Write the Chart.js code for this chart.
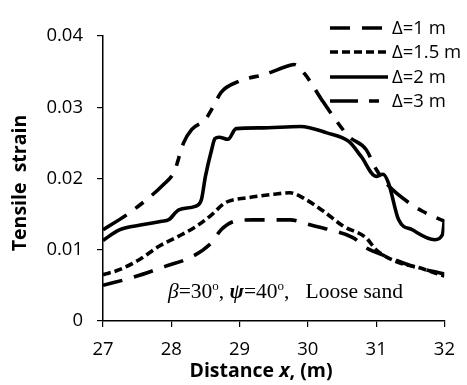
<!DOCTYPE html>
<html>
<head>
<meta charset="utf-8">
<script src="https://cdn.jsdelivr.net/npm/chart.js@4.4.0/dist/chart.umd.min.js"></script>
<style>
html,body{margin:0;padding:0;background:#fff;}
#wrap{width:467px;height:385px;position:relative;}
</style>
</head>
<body>
<div id="wrap"><canvas id="c" width="467" height="385"></canvas></div>
<script>
// ---- data ----
const xTicks = [27, 28, 29, 30, 31, 32];
const yTicks = [0, 0.01, 0.02, 0.03, 0.04];
const seriesNames = ['\u0394=1 m', '\u0394=1.5 m', '\u0394=2 m', '\u0394=3 m'];

const d1X = [27, 27.43, 27.92, 28.3, 28.59, 28.73, 28.93, 29.2, 29.55, 29.74, 30.03, 30.32, 30.66, 30.85, 31.14, 31.53, 32];
const d1Y = [0.0050, 0.0061, 0.0077, 0.0090, 0.0110, 0.0128, 0.0140, 0.0142, 0.0142, 0.0142, 0.0135, 0.0128, 0.0117, 0.0103, 0.0091, 0.0077, 0.0066];

const d15X = [27, 27.24, 27.53, 27.82, 28.11, 28.4, 28.59, 28.79, 29.12, 29.51, 29.74, 29.98, 30.23, 30.52, 30.85, 31.0, 31.33, 31.62, 32];
const d15Y = [0.0065, 0.0072, 0.0086, 0.0105, 0.0119, 0.0135, 0.0149, 0.0166, 0.0173, 0.0178, 0.0180, 0.0170, 0.0154, 0.0133, 0.0117, 0.0100, 0.0082, 0.0075, 0.0063];

const d2X = [27, 27.24, 27.57, 27.86, 27.96, 28.11, 28.35, 28.44, 28.5, 28.59, 28.64, 28.7, 28.83, 28.95, 29.3, 29.89, 30.28, 30.6, 30.78, 31.0, 31.1, 31.18, 31.33, 31.53, 31.86, 31.97, 32];
const d2Y = [0.0113, 0.0128, 0.0135, 0.0140, 0.0142, 0.0156, 0.0161, 0.0170, 0.0203, 0.0240, 0.0256, 0.0258, 0.0255, 0.0270, 0.0271, 0.0273, 0.0264, 0.0252, 0.0231, 0.0203, 0.0206, 0.0194, 0.0142, 0.0128, 0.0114, 0.0121, 0.0142];

const d3X = [27, 27.39, 27.89, 28.04, 28.18, 28.3, 28.5, 28.61, 28.73, 28.98, 29.4, 29.74, 29.8, 29.96, 30.2, 30.35, 30.6, 30.85, 31.0, 31.19, 31.48, 31.68, 32];
const d3Y = [0.0128, 0.0152, 0.0192, 0.0209, 0.0250, 0.0269, 0.0283, 0.0300, 0.0321, 0.0336, 0.0347, 0.0359, 0.0360, 0.0346, 0.0311, 0.0290, 0.0259, 0.0241, 0.0213, 0.0189, 0.0166, 0.0154, 0.0140];

const dashes = [[20, 12], [8, 4], [], [28, 11, 10, 11]];

function pts(xs, ys){ return xs.map((x,i)=>({x:x, y:ys[i]})); }
const allX = [d1X, d15X, d2X, d3X];
const allY = [d1Y, d15Y, d2Y, d3Y];

const LW = 3.6;
const datasets = seriesNames.map((n,i)=>({
  label: n,
  data: pts(allX[i], allY[i]),
  borderColor: '#000',
  borderWidth: LW,
  borderDash: dashes[i],
  pointRadius: 0,
  fill: false,
  cubicInterpolationMode: 'monotone',
  borderCapStyle: 'butt'
}));

const TICKFONT = {family: 'Open Sans', size: 18.5};

const overlay = {
  id: 'overlay',
  afterDraw(chart){
    const ctx = chart.ctx;
    ctx.save();
    // legend
    const rows = [28, 52, 77, 101];
    ctx.fillStyle = '#000';
    ctx.textBaseline = 'middle';
    ctx.font = '18.5px "Open Sans"';
    seriesNames.forEach((n,i)=>{
      ctx.beginPath();
      ctx.setLineDash(dashes[i]);
      ctx.lineWidth = LW;
      ctx.strokeStyle = '#000';
      ctx.moveTo(330, rows[i]);
      ctx.lineTo(388, rows[i]);
      ctx.stroke();
      ctx.setLineDash([]);
      ctx.textAlign = 'left';
      ctx.fillText(n, 392, rows[i] + 1);
    });
    // y title
    ctx.save();
    ctx.translate(20, 183);
    ctx.rotate(-Math.PI/2);
    ctx.textAlign = 'center';
    ctx.textBaseline = 'middle';
    ctx.font = 'bold 19.5px "Open Sans"';
    ctx.fillText('Tensile  strain', 0, 0);
    ctx.restore();
    // x title
    const parts = [
      ['bold 19.5px "Open Sans"', 'Distance '],
      ['bold italic 19.5px "Open Sans"', 'x'],
      ['bold 19.5px "Open Sans"', ', (m)']
    ];
    let w = 0;
    parts.forEach(p=>{ctx.font=p[0]; w += ctx.measureText(p[1]).width;});
    let x0 = 261 - w/2;
    ctx.textAlign = 'left';
    ctx.textBaseline = 'middle';
    parts.forEach(p=>{ctx.font=p[0]; ctx.fillText(p[1], x0, 371); x0 += ctx.measureText(p[1]).width;});
    // annotation
    const serif = '"Liberation Serif", "Times New Roman", serif';
    const F = 21.5;
    const ann = [
      ['italic ' + F + 'px ' + serif, '\u03B2', 0],
      [F + 'px ' + serif, '=30', 0],
      ['13px ' + serif, 'o', -8],
      [F + 'px ' + serif, ', ', 0],
      ['bold italic ' + F + 'px ' + serif, '\u03C8', 0],
      [F + 'px ' + serif, '=40', 0],
      ['13px ' + serif, 'o', -8],
      [F + 'px ' + serif, ',   Loose sand', 0]
    ];
    let ax = 168;
    const ay = 298;
    ctx.textBaseline = 'alphabetic';
    ann.forEach(p=>{ctx.font=p[0]; ctx.fillText(p[1], ax, ay + p[2]); ax += ctx.measureText(p[1]).width;});
    ctx.restore();
  }
};

new Chart(document.getElementById('c'), {
  type: 'line',
  data: {datasets},
  options: {
    responsive: false,
    animation: false,
    devicePixelRatio: 1,
    layout: {padding: {left: 0, top: 36, right: 18, bottom: 23}},
    plugins: {legend: {display: false}, tooltip: {enabled: false}},
    scales: {
      x: {
        type: 'linear',
        min: 27, max: 32,
        afterBuildTicks(s){ s.ticks = xTicks.map(v=>({value:v})); },
        afterFit(s){ s.height = 41; },
        grid: {drawOnChartArea: false, drawTicks: true, tickLength: 6, color: '#000', lineWidth: 1.2},
        border: {display: true, color: '#000', width: 1.5},
        ticks: {color: '#000', font: TICKFONT, padding: 12, maxRotation: 0, callback: v => String(v)}
      },
      y: {
        type: 'linear',
        min: 0, max: 0.04,
        afterBuildTicks(s){ s.ticks = yTicks.map(v=>({value:v})); },
        afterFit(s){ s.width = 103; },
        grid: {drawOnChartArea: false, drawTicks: true, tickLength: 6, color: '#000', lineWidth: 1.2},
        border: {display: true, color: '#000', width: 1.5},
        ticks: {color: '#000', font: TICKFONT, padding: 14, callback: v => String(Math.round(v*100)/100)}
      }
    }
  },
  plugins: [overlay]
});
</script>
</body>
</html>
